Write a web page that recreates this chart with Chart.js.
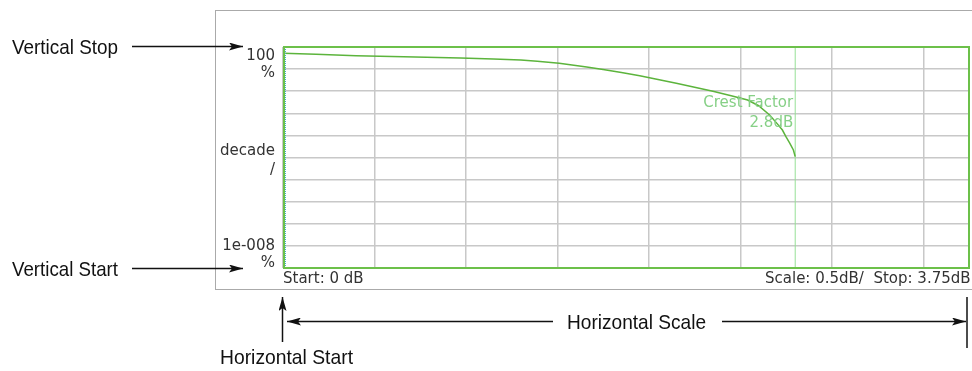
<!DOCTYPE html>
<html>
<head>
<meta charset="utf-8">
<script src="https://cdn.jsdelivr.net/npm/chart.js@4"></script>
<style>
  html, body { margin: 0; padding: 0; background: #fff; }
  #wrap { position: relative; width: 972px; height: 371px; overflow: hidden; }
  #frame { position: absolute; left: 215px; top: 10px; width: 800px; height: 278px; border: 1px solid #aaa; }
  #myChart { position: absolute; left: 0; top: 0; }
  #callouts { position: absolute; left: 0; top: 0; }
  #callouts text { font-family: "Liberation Sans", Arial, sans-serif; font-size: 21px; fill: #111; }
</style>
</head>
<body>
<div id="wrap">
  <div id="frame"></div>
  <canvas id="myChart" width="972" height="371"></canvas>
  <svg id="callouts" width="972" height="371">
    <defs>
      <marker id="head" viewBox="0 0 14 8" refX="14" refY="4" markerWidth="14" markerHeight="8" markerUnits="userSpaceOnUse" orient="auto">
        <path d="M0,0 L14,4 L0,8 L3,4 z" fill="#111"/>
      </marker>
    </defs>
    <text x="12" y="54" textLength="106" lengthAdjust="spacingAndGlyphs">Vertical Stop</text>
    <line x1="132" y1="46.5" x2="243" y2="46.5" stroke="#111" stroke-width="1.5" marker-end="url(#head)"/>
    <text x="12" y="276" textLength="106" lengthAdjust="spacingAndGlyphs">Vertical Start</text>
    <line x1="132" y1="268.5" x2="243" y2="268.5" stroke="#111" stroke-width="1.5" marker-end="url(#head)"/>
    <line x1="282.5" y1="342" x2="282.5" y2="297" stroke="#111" stroke-width="1.5" marker-end="url(#head)"/>
    <text x="220" y="364" textLength="133" lengthAdjust="spacingAndGlyphs">Horizontal Start</text>
    <line x1="553" y1="321.5" x2="287" y2="321.5" stroke="#111" stroke-width="1.5" marker-end="url(#head)"/>
    <text x="567" y="328.5" textLength="139" lengthAdjust="spacingAndGlyphs">Horizontal Scale</text>
    <line x1="722" y1="321.5" x2="966" y2="321.5" stroke="#111" stroke-width="1.5" marker-end="url(#head)"/>
    <line x1="967" y1="297" x2="967" y2="348" stroke="#111" stroke-width="1.5"/>
  </svg>
</div>
<script>
// CCDF trace (x: dB above average, y: probability in %)
const ccdfDb = [0, 0.18, 0.40, 0.66, 0.97, 1.15, 1.30, 1.39, 1.51, 1.58, 1.66, 1.75, 1.85, 1.95,
                2.05, 2.15, 2.25, 2.35, 2.45, 2.54, 2.60, 2.66, 2.70, 2.73, 2.75, 2.77, 2.79, 2.80];
const ccdfPct = [51.9, 46.8, 40.4, 36.4, 31.8, 28.6, 25.8, 22.5, 18.3, 15.5, 12.5, 9.5, 7.0, 5.0,
                 3.4, 2.3, 1.5, 1.0, 0.62, 0.40, 0.22, 0.084, 0.035, 0.0175, 0.0085, 0.0045, 0.0022, 0.0011];

// crest factor marker
const crestFactorDb = 2.8;
const crestLabel = ['Crest Factor', '2.8dB'];

// axes
const xStart = 0;
const xStep = 0.5;
const xStop = 3.75;
const yDecades = [1e-8, 1e-7, 1e-6, 1e-5, 1e-4, 1e-3, 1e-2, 1e-1, 1, 10, 100];
const yLabelValues = [100, 1e-3, 1e-8];
const yLabelText = [['100', '%'], ['decade', '/'], ['1e-008', '%']];

const instFont = '15px "DejaVu Sans", Verdana, sans-serif';

let ctx = document.getElementById('myChart').getContext('2d');

// labels, border and marker text, drawn like the analyzer screen
const screenText = {
    id: 'screenText',
    afterDraw(chart) {
        const c = chart.ctx;
        const a = chart.chartArea;
        const ys = chart.scales.y;
        const xs = chart.scales.x;
        c.save();

        // left edge dotted trace
        c.strokeStyle = '#3fb0c8';
        c.lineWidth = 1;
        c.setLineDash([1, 1]);
        c.beginPath();
        c.moveTo(a.left + 2.5, a.top);
        c.lineTo(a.left + 2.5, a.bottom);
        c.stroke();
        c.setLineDash([]);

        // green graticule border
        c.strokeStyle = '#6cc04a';
        c.lineWidth = 2;
        c.strokeRect(a.left + 1, a.top, a.right - a.left - 1, a.bottom - a.top);

        c.font = instFont;
        c.fillStyle = '#333';
        c.textBaseline = 'middle';

        // y labels
        const offs = [[9, 26], [-6.5, 12.5], [-22, -5]];
        c.textAlign = 'right';
        yLabelValues.forEach((v, i) => {
            const py = ys.getPixelForValue(v);
            c.fillText(yLabelText[i][0], a.left - 8, py + offs[i][0]);
            c.fillText(yLabelText[i][1], a.left - 8, py + offs[i][1]);
        });

        // x labels
        c.textAlign = 'left';
        c.fillText('Start: ' + xStart + ' dB', a.left, a.bottom + 11);
        c.fillText('Scale: ' + xStep + 'dB/  Stop: ' + xStop + 'dB', 765, a.bottom + 11);

        // crest factor text
        const mx = xs.getPixelForValue(crestFactorDb);
        c.fillStyle = '#86d086';
        c.textAlign = 'right';
        c.fillText(crestLabel[0], mx - 2, a.top + 56);
        c.fillText(crestLabel[1], mx - 2, a.top + 76);
        c.restore();
    }
};

let chart = new Chart(ctx, {
    type: 'line',
    data: {
        datasets: [{
            label: 'CCDF',
            data: ccdfDb.map((x, i) => ({ x: x, y: ccdfPct[i] })),
            borderColor: '#5cb43c',
            borderWidth: 1.5,
            pointRadius: 0,
            tension: 0,
            fill: false
        }, {
            label: 'Crest Factor',
            data: [{ x: crestFactorDb, y: 1e-8 }, { x: crestFactorDb, y: 100 }],
            borderColor: '#96e096',
            borderWidth: 1,
            pointRadius: 0,
            fill: false
        }]
    },
    options: {
        responsive: false,
        animation: false,
        events: [],
        layout: { padding: { left: 283, top: 47, right: 3, bottom: 103 } },
        plugins: { legend: { display: false }, tooltip: { enabled: false } },
        scales: {
            x: {
                type: 'linear',
                min: xStart,
                max: xStop,
                ticks: { display: false, stepSize: xStep },
                grid: { color: '#c8c8c8', lineWidth: 1.5, drawTicks: false },
                border: { display: false }
            },
            y: {
                type: 'logarithmic',
                min: 1e-8,
                max: 100,
                afterBuildTicks: (axis) => { axis.ticks = yDecades.map(v => ({ value: v })); },
                ticks: { display: false },
                grid: { color: '#c8c8c8', lineWidth: 1.5, drawTicks: false },
                border: { display: false }
            }
        }
    },
    plugins: [screenText]
});
</script>
</body>
</html>
